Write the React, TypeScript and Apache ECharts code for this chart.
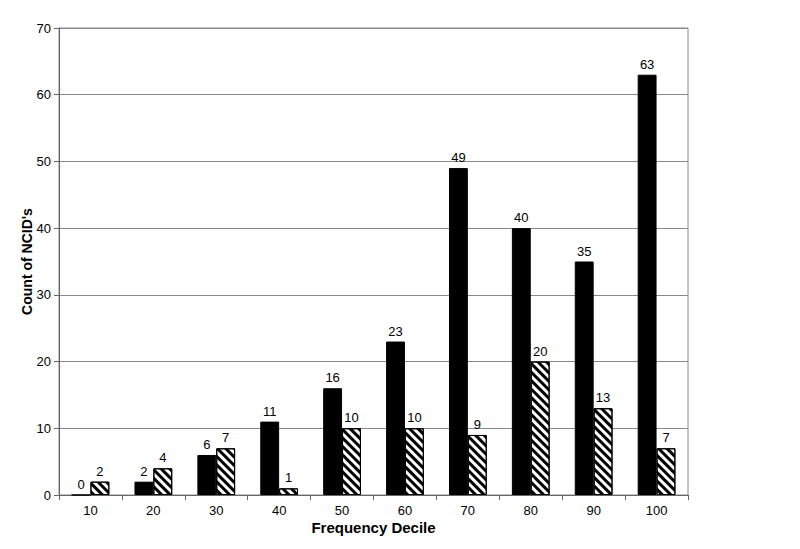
import React, { useEffect, useRef } from "react";
import * as echarts from "echarts";

const categories = ["10", "20", "30", "40", "50", "60", "70", "80", "90", "100"];
const solidValues = [0, 2, 6, 11, 16, 23, 49, 40, 35, 63];
const hatchedValues = [2, 4, 7, 1, 10, 10, 9, 20, 13, 7];

const FONT = "'Liberation Sans', Arial, sans-serif";

export default function App() {
  const ref = useRef<HTMLDivElement>(null);
  useEffect(() => {
    if (!ref.current) return;
    const chart = echarts.init(ref.current, undefined, { renderer: "svg" });
    chart.setOption({
      animation: false,
      backgroundColor: "#fff",
      grid: {
        left: 51,
        right: 104,
        top: 20,
        bottom: 46,
        outerBoundsMode: "none",
        containLabel: false,
        show: true,
        borderColor: "#888",
        borderWidth: 1,
      },
      xAxis: {
        type: "category",
        data: categories,
        name: "Frequency Decile",
        nameLocation: "middle",
        nameGap: 25,
        nameMoveOverlap: false,
        nameTextStyle: { fontFamily: FONT, fontWeight: "bold", fontSize: 15, color: "#000" },
        axisLine: { lineStyle: { color: "#666", width: 1 } },
        axisTick: { show: true, alignWithLabel: false, length: 5, lineStyle: { color: "#666" } },
        axisLabel: { fontFamily: FONT, fontSize: 13, color: "#000", margin: 9 },
      },
      yAxis: {
        type: "value",
        min: 0,
        max: 70,
        interval: 10,
        name: "Count of NCID's",
        nameLocation: "middle",
        nameGap: 25,
        nameMoveOverlap: false,
        nameTextStyle: { fontFamily: FONT, fontWeight: "bold", fontSize: 14, color: "#000" },
        axisLine: { show: true, lineStyle: { color: "#666", width: 1 } },
        axisTick: { show: true, length: 5, lineStyle: { color: "#666" } },
        axisLabel: { fontFamily: FONT, fontSize: 13, color: "#000", margin: 8 },
        splitLine: { show: true, lineStyle: { color: "#888", width: 1 } },
      },
      series: [
        {
          type: "bar",
          data: solidValues,
          barGap: "0%",
          barCategoryGap: "40%",
          itemStyle: { color: "#000", borderColor: "#000", borderWidth: 1 },
          label: { show: true, position: "top", distance: 4, fontFamily: FONT, fontSize: 13, color: "#000" },
        },
        {
          type: "bar",
          data: hatchedValues,
          itemStyle: {
            color: "#fff",
            borderColor: "#000",
            borderWidth: 1,
            decal: {
              symbol: "rect",
              symbolSize: 1,
              dashArrayX: [1, 0],
              dashArrayY: [3, 3],
              rotation: Math.PI / 4,
              color: "#000",
            },
          },
          label: { show: true, position: "top", distance: 4, fontFamily: FONT, fontSize: 13, color: "#000" },
        },
      ],
    });
    return () => chart.dispose();
  }, []);
  return <div ref={ref} style={{ width: 784, height: 533 }} />;
}
